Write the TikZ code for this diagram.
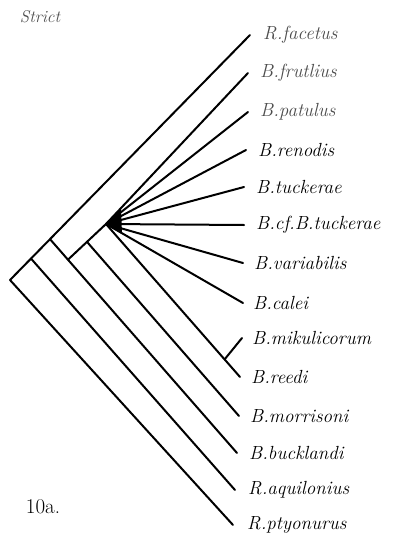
\documentclass[tikz,border=0pt]{standalone}
\usepackage{tikz}
\usetikzlibrary{calc, positioning}
\tikzset{
  taxon/.style={inner sep=0pt, font=\fontsize{19}{21}\selectfont\itshape},
  faded/.style={text=black!70},
  branch/.style={line width=2pt, line cap=round},
}

\begin{document}
\begin{tikzpicture}[x=1pt, y=-1pt]
  \useasboundingbox (0,0) rectangle (403,543);
  % 末端
  \foreach \tip/\x/\y in {facetus/250/35, frutlius/248/73, patulus/248/112,
      renodis/246/150, tuckerae/244/187, cftuckerae/244/225, variabilis/243/263,
      calei/243/303, mikulicorum/242/338, reedi/240/377, morrisoni/239/416,
      bucklandi/237/453, aquilonius/235/490, ptyonurus/233/525}
    \coordinate (\tip) at (\x,\y);
  % 節点
  \coordinate (root) at (10,280);
  \coordinate (n1) at ($(root)!0.0875!(facetus)$);
  \coordinate (n2) at ($(root)!0.1667!(facetus)$);
  \coordinate (j) at ($(n2)!0.096!(bucklandi)$);
  \coordinate (p) at (106,224);
  \coordinate (n3) at ($(j)!0.5!(p)$);
  \coordinate (m) at ($(p)!0.885!(reedi)$);

  % 名前
  \node[taxon, faded, right=13pt of facetus] (lfacetus) {R.facetus};
  \node[taxon, faded, right=12pt of frutlius] (lfrutlius) {B.frutlius};
  \node[taxon, faded, right=12pt of patulus] (lpatulus) {B.patulus};
  \node[taxon, right=12pt of renodis] (lrenodis) {B.renodis};
  \node[taxon, right=12pt of tuckerae] (ltuckerae) {B.tuckerae};
  \node[taxon, right=12pt of cftuckerae] (lcftuckerae) {B.cf.B.tuckerae};
  \node[taxon, right=11pt of variabilis] (lvariabilis) {B.variabilis};
  \node[taxon, right=10pt of calei] (lcalei) {B.calei};
  \node[taxon, right=10pt of mikulicorum] (lmikulicorum) {B.mikulicorum};
  \node[taxon, right=11pt of reedi] (lreedi) {B.reedi};
  \node[taxon, right=11pt of morrisoni] (lmorrisoni) {B.morrisoni};
  \node[taxon, right=12pt of bucklandi] (lbucklandi) {B.bucklandi};
  \node[taxon, right=13pt of aquilonius] (laquilonius) {R.aquilonius};
  \node[taxon, right=14pt of ptyonurus] (lptyonurus) {R.ptyonurus};

  % 枝
  \draw[branch] (root) -- (facetus); % 外側の軸
  \draw[branch] (root) -- (ptyonurus);
  \draw[branch] (n1) -- (aquilonius);
  \draw[branch] (n2) -- (bucklandi);
  \draw[branch] (j) -- (p); % 内側の軸
  \draw[branch] (n3) -- (morrisoni);
  \draw[branch] (p) -- (reedi);
  \draw[branch] (m) -- (mikulicorum);
  \foreach \tip in {frutlius, patulus, renodis, tuckerae, cftuckerae, variabilis, calei}
    \draw[branch] (p) -- (\tip);
  \fill (p) -- (121,208) -- (122,234) -- cycle; % 多分岐

  \node[faded, font=\fontsize{17}{19}\selectfont\itshape] (strict) at (40,17) {Strict};
  \node[font=\fontsize{21}{23}\selectfont] (fig) at (43,507) {10a.};
\end{tikzpicture}
\end{document}
